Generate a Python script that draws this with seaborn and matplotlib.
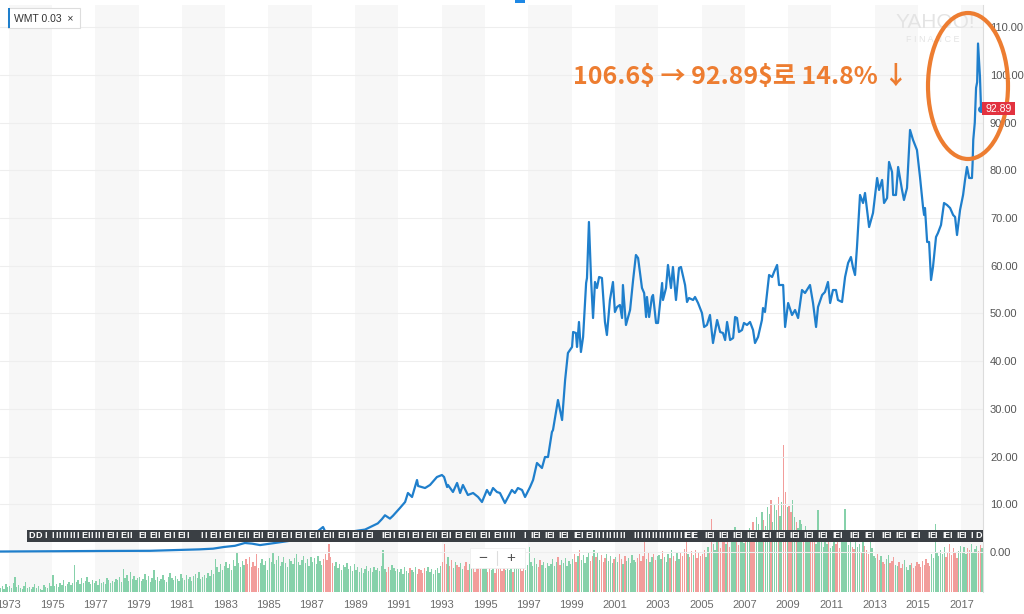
import numpy as np
import pandas as pd
import matplotlib
matplotlib.use("Agg")
import matplotlib.pyplot as plt
import seaborn as sns
from matplotlib.patches import Rectangle, Ellipse

#############
### Dados ###
#############

# WMT closing price (decimal year, USD)
price_year = [
    1972.60, 1974.50, 1977.22, 1979.53, 1980.91, 1981.80, 1982.44, 1982.94, 1983.45, 1983.91,
    1984.24, 1984.61, 1984.98, 1985.39, 1985.99, 1986.46, 1986.92, 1987.29, 1987.52, 1987.66,
    1988.00, 1988.30, 1988.70, 1989.00, 1989.46, 1989.78, 1990.05, 1990.24, 1990.38, 1990.61,
    1990.75, 1991.07, 1991.31, 1991.44, 1991.63, 1991.86, 1991.91, 1992.23, 1992.46, 1992.78,
    1993.01, 1993.11, 1993.25, 1993.29, 1993.52, 1993.71, 1993.85, 1993.98, 1994.21, 1994.45,
    1994.68, 1994.86, 1995.09, 1995.23, 1995.37, 1995.55, 1995.69, 1995.92, 1996.24, 1996.38,
    1996.52, 1996.71, 1996.85, 1997.08, 1997.22, 1997.40, 1997.63, 1997.77, 1997.91, 1998.09,
    1998.14, 1998.37, 1998.56, 1998.70, 1998.83, 1999.02, 1999.07, 1999.20, 1999.25, 1999.34,
    1999.43, 1999.53, 1999.67, 1999.71, 1999.80, 1999.90, 1999.99, 2000.08, 2000.17, 2000.27,
    2000.40, 2000.54, 2000.63, 2000.77, 2000.91, 2001.00, 2001.10, 2001.23, 2001.33, 2001.37,
    2001.51, 2001.70, 2001.84, 2001.97, 2002.07, 2002.25, 2002.35, 2002.44, 2002.48, 2002.58,
    2002.71, 2002.76, 2002.90, 2002.99, 2003.18, 2003.22, 2003.36, 2003.45, 2003.59, 2003.68,
    2003.82, 2003.96, 2004.05, 2004.24, 2004.33, 2004.42, 2004.61, 2004.70, 2004.84, 2005.02,
    2005.12, 2005.25, 2005.39, 2005.53, 2005.72, 2005.86, 2005.99, 2006.09, 2006.18, 2006.32,
    2006.46, 2006.55, 2006.64, 2006.73, 2006.87, 2006.96, 2007.10, 2007.24, 2007.38, 2007.47,
    2007.61, 2007.79, 2007.84, 2007.93, 2008.12, 2008.26, 2008.35, 2008.49, 2008.58, 2008.77,
    2008.86, 2009.00, 2009.18, 2009.32, 2009.46, 2009.64, 2009.78, 2010.01, 2010.15, 2010.29,
    2010.38, 2010.57, 2010.70, 2010.84, 2010.94, 2011.07, 2011.21, 2011.30, 2011.49, 2011.63,
    2011.77, 2011.90, 2012.00, 2012.09, 2012.18, 2012.32, 2012.46, 2012.55, 2012.74, 2012.92,
    2013.11, 2013.20, 2013.34, 2013.43, 2013.57, 2013.66, 2013.80, 2013.85, 2013.98, 2014.08,
    2014.26, 2014.35, 2014.49, 2014.63, 2014.77, 2014.95, 2015.09, 2015.23, 2015.28, 2015.32,
    2015.42, 2015.51, 2015.60, 2015.69, 2015.83, 2015.92, 2016.06, 2016.20, 2016.34, 2016.48,
    2016.62, 2016.71, 2016.80, 2016.94, 2017.08, 2017.17, 2017.26, 2017.36, 2017.49, 2017.52,
    2017.55, 2017.62, 2017.68, 2017.73, 2017.77, 2017.86, 2017.91,
]
price_close = [
    0.10, 0.15, 0.21, 0.25, 0.42, 0.55, 0.70, 1.05, 1.30, 1.89,
    1.75, 1.45, 1.68, 1.95, 2.35, 2.95, 3.75, 4.40, 5.24, 3.90,
    3.70, 4.00, 4.10, 4.40, 4.70, 5.40, 6.00, 6.90, 7.70, 7.00,
    7.60, 9.22, 10.48, 12.37, 11.53, 15.09, 13.84, 13.41, 14.05, 15.72,
    16.14, 15.72, 13.62, 14.05, 12.58, 14.47, 12.37, 14.05, 11.95, 12.37,
    11.53, 10.48, 13.00, 11.95, 13.41, 12.58, 12.37, 10.27, 13.00, 12.37,
    13.41, 13.00, 11.53, 13.62, 15.09, 18.66, 17.61, 19.91, 19.91, 25.15,
    25.57, 31.86, 27.67, 36.06, 41.72, 42.98, 46.12, 45.91, 42.98, 48.22,
    41.93, 45.07, 56.39, 57.44, 69.18, 57.02, 49.05, 56.60, 55.34, 57.65,
    57.44, 48.22, 45.49, 52.83, 56.60, 50.31, 51.36, 51.78, 49.05, 55.97,
    47.59, 50.73, 57.02, 62.26, 61.63, 55.34, 54.29, 49.26, 53.46, 49.26,
    53.46, 53.88, 48.01, 48.01, 56.39, 52.83, 55.34, 60.17, 55.34, 59.75,
    52.83, 59.54, 59.75, 55.97, 52.41, 53.25, 52.83, 53.46, 52.20, 50.10,
    47.17, 47.59, 49.68, 43.81, 48.64, 46.12, 45.91, 44.44, 48.22, 44.44,
    44.86, 49.26, 49.05, 46.12, 46.54, 48.01, 47.59, 48.22, 46.54, 43.81,
    45.07, 48.64, 51.15, 50.31, 58.07, 57.65, 58.70, 60.17, 55.97, 55.97,
    47.17, 52.20, 49.68, 50.73, 49.05, 54.92, 54.29, 55.97, 52.20, 47.17,
    51.36, 53.88, 54.50, 56.60, 52.20, 54.92, 54.92, 52.83, 52.41, 57.65,
    60.59, 61.84, 59.54, 58.07, 63.94, 74.84, 73.16, 75.26, 68.13, 71.07,
    78.40, 75.89, 77.99, 73.16, 74.21, 81.76, 79.66, 74.84, 74.84, 80.71,
    75.89, 73.79, 76.31, 88.47, 86.37, 84.27, 78.61, 72.32, 70.65, 72.11,
    64.99, 64.99, 57.02, 59.75, 66.03, 66.87, 68.55, 73.16, 72.74, 72.11,
    70.65, 70.23, 66.45, 71.70, 74.84, 77.99, 80.71, 78.40, 78.40, 81.50,
    86.40, 90.00, 97.30, 98.50, 106.60, 99.58, 92.89,
]

# monthly volume (relative units), first bar = Aug 1972
volume_start = 1972 + 7 / 12
volume = [
    4, 6, 3, 8, 5,                                    # 1972
    6, 4, 9, 15, 5, 7, 4, 3, 6, 10, 4, 5,             # 1973
    3, 5, 8, 4, 6, 3, 2, 7, 5, 4, 9, 6,               # 1974
    17, 6, 8, 5, 9, 7, 12, 6, 8, 10, 7, 9,            # 1975
    27, 10, 12, 8, 14, 9, 11, 15, 10, 8, 12, 9,       # 1976
    11, 7, 13, 9, 10, 8, 14, 12, 9, 11, 10, 13,       # 1977
    12, 15, 10, 23, 14, 17, 11, 20, 13, 16, 12, 14,   # 1978
    15, 11, 13, 18, 12, 16, 10, 14, 22, 12, 15, 11,   # 1979
    13, 17, 12, 10, 15, 19, 14, 12, 16, 13, 11, 18,   # 1980
    14, 12, 17, 13, 15, 11, 16, 18, 14, 20, 13, 15,   # 1981
    17, 14, 19, 16, 22, 18, 33, 25, 20, 28, 22, 26,   # 1982
    30, 24, 28, 22, 32, 26, 40, 29, 25, 31, 27, 33,   # 1983
    28, 35, 25, 30, 26, 38, 24, 29, 33, 27, 31, 22,   # 1984
    34, 30, 40, 28, 32, 36, 26, 30, 35, 29, 25, 33,   # 1985
    31, 28, 34, 38, 30, 27, 32, 36, 29, 33, 26, 35,   # 1986
    30, 34, 28, 36, 31, 27, 33, 38, 32, 48, 35, 29,   # 1987
    26, 30, 24, 28, 22, 27, 25, 29, 23, 26, 21, 28,   # 1988
    22, 25, 20, 24, 19, 23, 26, 21, 24, 20, 25, 22,   # 1989
    24, 21, 26, 42, 23, 20, 25, 22, 27, 24, 21, 23,   # 1990
    20, 23, 18, 25, 21, 19, 24, 22, 20, 25, 18, 23,   # 1991
    22, 19, 24, 21, 25, 20, 23, 18, 22, 24, 19, 26,   # 1992
    30, 48, 28, 35, 26, 32, 24, 30, 27, 25, 29, 23,   # 1993
    26, 30, 22, 28, 32, 24, 20, 27, 25, 29, 23, 26,   # 1994
    24, 20, 26, 22, 28, 19, 25, 23, 27, 21, 24, 22,   # 1995
    25, 22, 27, 20, 24, 28, 23, 26, 21, 25, 22, 27,   # 1996
    45, 30, 26, 34, 28, 25, 32, 27, 30, 24, 29, 26,   # 1997
    28, 33, 26, 30, 35, 27, 32, 29, 34, 26, 31, 28,   # 1998
    33, 38, 30, 36, 42, 32, 37, 29, 35, 40, 31, 36,   # 1999
    42, 35, 39, 32, 37, 30, 34, 38, 31, 36, 29, 33,   # 2000
    35, 30, 38, 33, 28, 36, 31, 34, 29, 37, 32, 30,   # 2001
    34, 38, 31, 36, 52, 33, 40, 30, 35, 38, 32, 36,   # 2002
    37, 33, 41, 35, 30, 38, 34, 42, 36, 31, 39, 33,   # 2003
    40, 36, 43, 55, 38, 35, 41, 37, 42, 34, 39, 36,   # 2004
    38, 42, 35, 45, 40, 73, 48, 42, 52, 60, 44, 50,   # 2005
    55, 48, 62, 45, 58, 50, 65, 52, 47, 60, 55, 49,   # 2006
    50, 58, 64, 55, 70, 60, 75, 68, 62, 80, 72, 66,   # 2007
    85, 78, 92, 70, 88, 82, 95, 76, 90, 147, 100, 85, # 2008
    86, 80, 92, 75, 70, 64, 72, 68, 60, 66, 58, 62,   # 2009
    55, 60, 52, 48, 82, 56, 50, 45, 54, 48, 58, 44,   # 2010
    46, 52, 48, 55, 44, 50, 58, 83, 54, 47, 52, 45,   # 2011
    43, 50, 45, 48, 40, 52, 46, 42, 38, 55, 44, 36,   # 2012
    34, 38, 32, 36, 30, 28, 33, 37, 29, 31, 35, 27,   # 2013
    26, 30, 24, 28, 32, 25, 22, 27, 29, 24, 26, 30,   # 2014
    28, 25, 31, 27, 33, 29, 26, 38, 34, 68, 40, 36,   # 2015
    42, 38, 45, 35, 40, 48, 37, 44, 39, 34, 41, 46,   # 2016
    40, 45, 38, 44, 42, 48, 39, 43, 46, 41, 47, 44,   # 2017
]

year_ticks = list(range(1973, 2018, 2))
price_ticks = list(range(0, 111, 10))
peak_price = 106.6
last_price = 92.89
drop_pct = 14.8

# event strip glyphs (dividends / earnings / splits)
strip_codes = ("D D I IIIIIIII EIIIII EII EII  EI EII EII EII   II EII EII EII EII EII "
               "EII EII EII EII EII EII EI  IEII EII EII EII EII EI EII EII EIIIII  I IEI "
               "IEI IEI IEI EIIIIIIIIII  IIIIIIIIIIIIIIIEIE  IEI IEI IEI IEI IEI IEI IEI "
               "IEI IEI IEI  IEI IEI  IEI IEI IEI  IEI IEI IEI I D")

##############
### Figura ###
##############

sns.set_style("white")
plt.rcParams['font.family'] = ['Liberation Sans', 'DejaVu Sans']

W, H = 1024, 614
fig = plt.figure(figsize=(W / 100, H / 100), dpi=100)
ax = fig.add_axes([0, 22 / H, 983 / W, 587 / H])

x_lo, x_hi = 1972.6, 2018.0
ax.set_xlim(x_lo, x_hi)
ax.set_ylim(0, 587)

# alternating 2-year bands
for y0 in range(1973, 2018, 4):
    ax.axvspan(y0, y0 + 2, color='#f7f7f7', lw=0, zorder=0)

# volume bars
months = volume_start + np.arange(len(volume)) / 12
p_open = np.interp(months, price_year, price_close)
p_close = np.interp(months + 1 / 12, price_year, price_close)
bar_colors = np.where(p_close >= p_open, '#86d1aa', '#f29d9b')
ax.bar(months + 1 / 24, volume, width=0.062, color=bar_colors, linewidth=0, zorder=2)

ax.set_yticks([])
ax.set_xticks(year_ticks)
ax.set_xticklabels([str(y) for y in year_ticks])
ax.tick_params(axis='x', length=3, width=0.8, color='#d0d0d0', labelsize=8,
               labelcolor='#6b6b6b', pad=3)
for s in ax.spines.values():
    s.set_visible(False)

# price line
axp = ax.twinx()
axp.set_xlim(x_lo, x_hi)
axp.set_ylim(-8.386, 114.67)
df = pd.DataFrame({'year': price_year, 'close': price_close})
sns.lineplot(data=df, x='year', y='close', ax=axp, color='#1f7fcc', lw=1.6,
             estimator=None, zorder=4)
axp.plot(price_year[-1], price_close[-1], 'o', color='#1f7fcc', ms=4, zorder=5)
axp.set_xlabel('')
axp.set_ylabel('')
axp.set_yticks(price_ticks)
axp.set_yticklabels([f"{v:.2f}" for v in price_ticks])
axp.tick_params(axis='y', length=0, pad=5, labelsize=8, labelcolor='#555555')
axp.grid(axis='y', color='#eeeeee', lw=0.8)
for k in ['left', 'top', 'bottom']:
    axp.spines[k].set_visible(False)
axp.spines['right'].set_color('#dcdcdc')
axp.spines['right'].set_linewidth(0.8)

# event strip
axp.add_patch(Rectangle((1973.85, 2.10), x_hi - 1973.85, 2.51, color='#3a3f44',
                        lw=0, zorder=6))
xs = np.linspace(1974.05, 2017.8, len(strip_codes))
for xc, ch in zip(xs, strip_codes):
    if ch != ' ':
        axp.text(xc, 3.36, ch, color='white', fontsize=6.5, fontweight='bold',
                 ha='center', va='center', zorder=7)


def fx(x):
    return x / W


def fy(y):
    return 1 - y / H


# last price label (y from the price scale)
y_last = fig.transFigure.inverted().transform(
    axp.transData.transform((x_hi, last_price)))[1]
fig.patches.append(Rectangle((fx(982), y_last - 6.5 / H), 33 / W, 13 / H,
                             transform=fig.transFigure, fc='#e2323f', ec='none', zorder=20))
fig.text(fx(998.5), y_last, f"{last_price:.2f}", color='white', fontsize=7.5,
         ha='center', va='center', zorder=21)

# legend chip
fig.patches.append(Rectangle((fx(8), fy(28)), 72 / W, 20 / H, transform=fig.transFigure,
                             fc='white', ec='#dddddd', lw=0.8, zorder=10))
fig.patches.append(Rectangle((fx(8), fy(28)), 2 / W, 20 / H, transform=fig.transFigure,
                             fc='#1f7fcc', ec='none', zorder=11))
fig.text(fx(14), fy(18.5), "WMT 0.03  \u00d7", fontsize=7.5, color='#333333',
         va='center', ha='left', zorder=12)

# zoom control
fig.patches.append(Rectangle((fx(470), fy(568)), 55 / W, 20 / H, transform=fig.transFigure,
                             fc='white', ec='#eeeeee', lw=0.6, zorder=10))
fig.text(fx(483), fy(558), "\u2212", fontsize=11, color='#555555', ha='center',
         va='center', zorder=11)
fig.text(fx(511), fy(558), "+", fontsize=11, color='#555555', ha='center',
         va='center', zorder=11)
fig.lines.append(plt.Line2D([fx(497), fx(497)], [fy(551), fy(565)], transform=fig.transFigure,
                            color='#dddddd', lw=0.8, zorder=11))

# top marker
fig.patches.append(Rectangle((fx(515), fy(3)), 10 / W, 3 / H, transform=fig.transFigure,
                             fc='#1e88e5', ec='none', zorder=10))

# watermark
fig.text(fx(935), fy(23), "YAHOO!", fontsize=15, color='#e4e4e4', ha='center',
         va='center', zorder=3)
fig.text(fx(933), fy(40), "F I N A N C E", fontsize=6.5, color='#e4e4e4', ha='center',
         va='center', zorder=3)

# annotation
fig.text(fx(741), fy(77), f"{peak_price}\\$ \u2192 {last_price}\\$로 {drop_pct}% \u2193",
         family=['Noto Sans CJK KR', 'DejaVu Sans'], fontsize=18, fontweight='bold',
         color='#ED7D31', ha='center', va='center', zorder=12)
fig.patches.append(Ellipse((fx(968), fy(86)), 80 / W, 146 / H, transform=fig.transFigure,
                           fill=False, ec='#ED7D31', lw=3.0, zorder=12))

fig.savefig("out.png", dpi=100)
